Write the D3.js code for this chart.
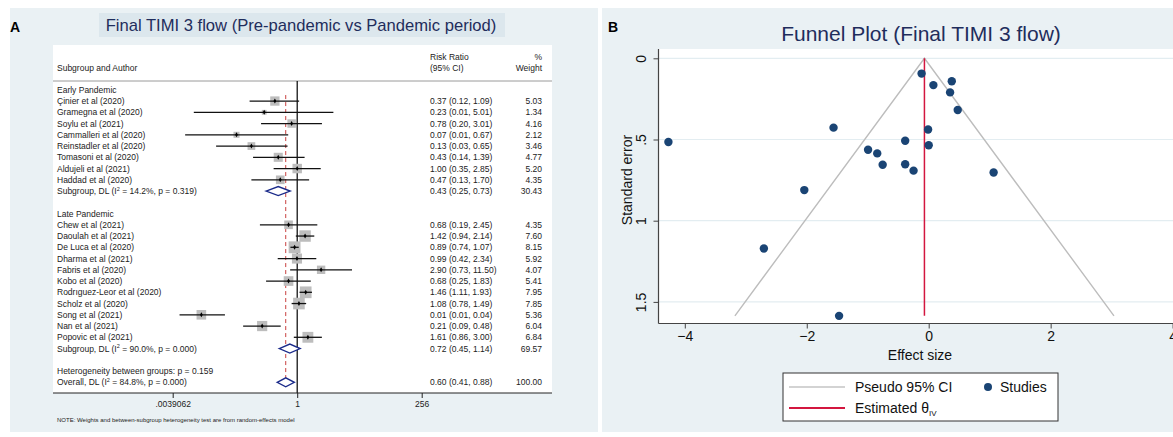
<!DOCTYPE html>
<html>
<head>
<meta charset="utf-8">
<script src="https://cdn.jsdelivr.net/npm/d3@7"></script>
<style>
  body { margin: 0; background: #fff; }
  svg { display: block; font-family: "Liberation Sans", Arial, sans-serif; }
</style>
</head>
<body>
<svg id="chart" width="1173" height="437"></svg>
<script>
// ---- forest plot data (risk ratio, 95% CI, % weight) ----
var earlyAuthors = ["Çinier et al (2020)", "Gramegna et al (2020)", "Soylu et al (2021)", "Cammalleri et al (2020)",
    "Reinstadler et al (2020)", "Tomasoni et al (2020)", "Aldujeli et al (2021)", "Haddad et al (2020)"];
var earlyRR = [0.37, 0.23, 0.78, 0.067, 0.13, 0.43, 1.00, 0.47];
var earlyLo = [0.12, 0.01, 0.20, 0.0068, 0.027, 0.14, 0.35, 0.13];
var earlyHi = [1.09, 5.01, 3.01, 0.67, 0.65, 1.39, 2.85, 1.70];
var earlyWeight = [5.03, 1.34, 4.16, 2.12, 3.46, 4.77, 5.20, 4.35];

var lateAuthors = ["Chew et al (2021)", "Daoulah et al (2021)", "De Luca et al (2020)", "Dharma et al (2021)",
    "Fabris et al (2020)", "Kobo et al (2020)", "Rodrıguez-Leor et al (2020)", "Scholz et al (2020)",
    "Song et al (2021)", "Nan et al (2021)", "Popovic et al (2021)"];
var lateRR = [0.68, 1.42, 0.89, 0.99, 2.90, 0.68, 1.46, 1.08, 0.014, 0.21, 1.61];
var lateLo = [0.19, 0.94, 0.74, 0.42, 0.73, 0.25, 1.11, 0.78, 0.0053, 0.09, 0.86];
var lateHi = [2.45, 2.14, 1.07, 2.34, 11.50, 1.83, 1.93, 1.49, 0.04, 0.48, 3.00];
var lateWeight = [4.35, 7.60, 8.15, 5.92, 4.07, 5.41, 7.95, 7.85, 5.36, 6.04, 6.84];

var groupNames = ["Early Pandemic", "Late Pandemic"];
var subgroupRR = [0.43, 0.72];
var subgroupLo = [0.25, 0.45];
var subgroupHi = [0.73, 1.14];
var subgroupWeight = [30.43, 69.57];
var subgroupI2 = ["14.2", "90.0"];
var subgroupP = ["0.319", "0.000"];

var overallRR = 0.60, overallLo = 0.41, overallHi = 0.88, overallWeight = 100.00;
var overallI2 = "84.8", overallP = "0.000", betweenP = "0.159";

var forestTicks = [Math.pow(2, -8), 1, 256];
var forestTickLabels = [".0039062", "1", "256"];

// ---- funnel plot ----
var thetaIV = -0.07;
var funnelXTicks = [-4, -2, 0, 2, 4];
var funnelYTicks = [0, 0.5, 1, 1.5];
var funnelYLabels = ["0", ".5", "1", "1.5"];

var svg = d3.select("#chart");
var f2 = d3.format(".2f");
var navy = "#1f2d5c";

// backgrounds
svg.append("rect").attr("x", 10).attr("y", 8).attr("width", 588).attr("height", 424).attr("fill", "#eaf1f4");
svg.append("rect").attr("x", 602).attr("y", 8).attr("width", 571).attr("height", 424).attr("fill", "#eaf1f4");

// ================= PANEL A : forest plot =================
var A = svg.append("g");
A.append("text").attr("x", 10).attr("y", 32).attr("font-size", 14).attr("font-weight", "bold").text("A");
A.append("rect").attr("x", 99).attr("y", 13).attr("width", 406).attr("height", 24).attr("fill", "#dce7ed");
A.append("text").attr("x", 301).attr("y", 31).attr("text-anchor", "middle").attr("font-size", 16.6)
    .attr("fill", navy).text("Final TIMI 3 flow (Pre-pandemic vs Pandemic period)");

A.append("rect").attr("x", 53).attr("y", 45).attr("width", 499).attr("height", 348).attr("fill", "#fff");

var fs = 8.5;
A.append("text").attr("x", 57).attr("y", 71).attr("font-size", fs).attr("fill", "#222").text("Subgroup and Author");
A.append("text").attr("x", 430).attr("y", 60).attr("font-size", fs).attr("fill", "#222").text("Risk Ratio");
A.append("text").attr("x", 430).attr("y", 71).attr("font-size", fs).attr("fill", "#222").text("(95% CI)");
A.append("text").attr("x", 542).attr("y", 60).attr("font-size", fs).attr("fill", "#222").attr("text-anchor", "end").text("%");
A.append("text").attr("x", 542).attr("y", 71).attr("font-size", fs).attr("fill", "#222").attr("text-anchor", "end").text("Weight");
A.append("line").attr("x1", 53).attr("x2", 552).attr("y1", 81).attr("y2", 81).attr("stroke", "#9a9a9a").attr("stroke-width", 1);

// build rows
var rows = [];
[0, 1].forEach(function (g) {
  var au = g === 0 ? earlyAuthors : lateAuthors;
  var rr = g === 0 ? earlyRR : lateRR;
  var lo = g === 0 ? earlyLo : lateLo;
  var hi = g === 0 ? earlyHi : lateHi;
  var w = g === 0 ? earlyWeight : lateWeight;
  rows.push({ type: "group", label: groupNames[g] });
  au.forEach(function (a, i) { rows.push({ type: "study", label: a, rr: rr[i], lo: lo[i], hi: hi[i], w: w[i] }); });
  rows.push({ type: "sub", pre: "Subgroup, DL (I", i2: subgroupI2[g], p: subgroupP[g],
    rr: subgroupRR[g], lo: subgroupLo[g], hi: subgroupHi[g], w: subgroupWeight[g] });
  rows.push({ type: "blank" });
});
rows.push({ type: "het", label: "Heterogeneity between groups: p = " + betweenP });
rows.push({ type: "sub", pre: "Overall, DL (I", i2: overallI2, p: overallP,
  rr: overallRR, lo: overallLo, hi: overallHi, w: overallWeight });

var rowY = function (i) { return 89.8 + i * 11.25; };
var xF = d3.scaleLog().base(2).domain([forestTicks[0], forestTicks[2]]).range([172.7, 421.7]);
var boxSide = d3.scaleSqrt().domain([0, 1]).range([0, 4.15]);

// reference lines
A.append("line").attr("x1", xF(1)).attr("x2", xF(1)).attr("y1", 81).attr("y2", 393).attr("stroke", "#000").attr("stroke-width", 1.2);
A.append("line").attr("x1", xF(overallRR)).attr("x2", xF(overallRR)).attr("y1", rowY(1) - 6).attr("y2", rowY(rows.length - 1))
    .attr("stroke", "#c8413f").attr("stroke-width", 1).attr("stroke-dasharray", "4,3");

rows.forEach(function (r, i) {
  var y = rowY(i);
  if (r.type === "blank") return;
  var t = A.append("text").attr("x", 57).attr("y", y + 3).attr("font-size", fs).attr("fill", "#222");
  if (r.type === "sub") {
    t.append("tspan").text(r.pre);
    t.append("tspan").attr("font-size", 5.5).attr("dy", -3.5).text("2");
    t.append("tspan").attr("dy", 3.5).text(" = " + r.i2 + "%, p = " + r.p + ")");
  } else {
    t.text(r.label);
  }
  if (r.type === "study" || r.type === "sub") {
    A.append("text").attr("x", 430).attr("y", y + 3).attr("font-size", fs).attr("fill", "#222")
        .text(f2(r.rr) + " (" + f2(r.lo) + ", " + f2(r.hi) + ")");
    A.append("text").attr("x", 542).attr("y", y + 3).attr("font-size", fs).attr("fill", "#222").attr("text-anchor", "end")
        .text(f2(r.w));
  }
  if (r.type === "study") {
    var s = boxSide(r.w);
    A.append("rect").attr("x", xF(r.rr) - s / 2).attr("y", y - s / 2).attr("width", s).attr("height", s).attr("fill", "#bdbdbd");
    A.append("line").attr("x1", xF(r.lo)).attr("x2", xF(r.hi)).attr("y1", y).attr("y2", y).attr("stroke", "#111").attr("stroke-width", 1.3);
    A.append("path").attr("d", d3.symbol().type(d3.symbolDiamond).size(7)).attr("transform", "translate(" + xF(r.rr) + "," + y + ")").attr("fill", "#000");
  }
  if (r.type === "sub") {
    var d = "M" + xF(r.lo) + "," + y + "L" + xF(r.rr) + "," + (y - 4.5) + "L" + xF(r.hi) + "," + y + "L" + xF(r.rr) + "," + (y + 4.5) + "Z";
    A.append("path").attr("d", d).attr("fill", "#fff").attr("stroke", "#1a2a8a").attr("stroke-width", 1.4);
  }
});

// forest axis
A.append("line").attr("x1", 53).attr("x2", 552).attr("y1", 393).attr("y2", 393).attr("stroke", "#222").attr("stroke-width", 1);
var axF = A.append("g").attr("transform", "translate(0,393)")
    .call(d3.axisBottom(xF).tickValues(forestTicks).tickFormat(function (d, i) { return forestTickLabels[i]; }).tickSize(5));
axF.select(".domain").remove();
axF.selectAll("text").attr("font-size", fs).attr("fill", "#222").attr("y", 8).attr("font-family", null);
axF.selectAll("line").attr("stroke", "#222");
A.append("text").attr("x", 57).attr("y", 422).attr("font-size", 6).attr("fill", "#222")
    .text("NOTE: Weights and between-subgroup heterogeneity test are from random-effects model");

// ================= PANEL B : funnel plot =================
var B = svg.append("g");
B.append("text").attr("x", 608).attr("y", 32).attr("font-size", 14).attr("font-weight", "bold").text("B");
B.append("text").attr("x", 921).attr("y", 41).attr("text-anchor", "middle").attr("font-size", 21).attr("fill", navy)
    .text("Funnel Plot (Final TIMI 3 flow)");

var xB = d3.scaleLinear().domain([-4, 4]).range([684.8, 1172.6]);
var yB = d3.scaleLinear().domain([0, 1.5]).range([58.3, 301.9]);
var plotL = 658.5, plotT = 49, plotB = 323.5;

B.append("rect").attr("x", plotL).attr("y", plotT).attr("width", 1173 - plotL).attr("height", plotB - plotT).attr("fill", "#fff");
funnelYTicks.forEach(function (t) {
  B.append("line").attr("x1", plotL).attr("x2", 1173).attr("y1", yB(t)).attr("y2", yB(t)).attr("stroke", "#e3edf1").attr("stroke-width", 1.2);
});

// studies derived from the forest data: log RR and its standard error
var studies = rows.filter(function (r) { return r.type === "study"; }).map(function (r) {
  return { es: Math.log(r.rr), se: (Math.log(r.hi) - Math.log(r.lo)) / (2 * 1.96) };
});
var seMax = d3.max(studies, function (d) { return d.se; });

B.append("path")
    .attr("d", "M" + xB(thetaIV - 1.96 * seMax) + "," + yB(seMax) + "L" + xB(thetaIV) + "," + yB(0) + "L" + xB(thetaIV + 1.96 * seMax) + "," + yB(seMax))
    .attr("fill", "none").attr("stroke", "#bdbdbd").attr("stroke-width", 1.4);
B.append("line").attr("x1", xB(thetaIV)).attr("x2", xB(thetaIV)).attr("y1", yB(0)).attr("y2", yB(seMax))
    .attr("stroke", "#d3163f").attr("stroke-width", 1.5);

B.selectAll("circle.study").data(studies).enter().append("circle").attr("class", "study")
    .attr("cx", function (d) { return xB(d.es); }).attr("cy", function (d) { return yB(d.se); })
    .attr("r", 4.2).attr("fill", "#1a4474");

// axes
B.append("line").attr("x1", plotL).attr("x2", 1173).attr("y1", plotB).attr("y2", plotB).attr("stroke", "#444").attr("stroke-width", 1.2);
B.append("line").attr("x1", plotL).attr("x2", plotL).attr("y1", plotT).attr("y2", plotB).attr("stroke", "#444").attr("stroke-width", 1.2);

var axX = B.append("g").attr("transform", "translate(0," + plotB + ")")
    .call(d3.axisBottom(xB).tickValues(funnelXTicks).tickSize(5));
axX.select(".domain").remove();
axX.selectAll("line").attr("stroke", "#444");
axX.selectAll("text").attr("font-size", 14).attr("fill", "#111").attr("font-family", null).attr("y", 8);

var axY = B.append("g").attr("transform", "translate(" + plotL + ",0)")
    .call(d3.axisLeft(yB).tickValues(funnelYTicks).tickSize(5).tickFormat(function (d, i) { return funnelYLabels[i]; }));
axY.select(".domain").remove();
axY.selectAll("line").attr("stroke", "#444");
axY.selectAll("text").attr("font-size", 14).attr("fill", "#111").attr("font-family", null)
    .attr("x", 0).attr("y", -13).attr("dy", 0).attr("text-anchor", "middle").attr("transform", "rotate(-90)");

B.append("text").attr("x", 920).attr("y", 360).attr("text-anchor", "middle").attr("font-size", 14).attr("fill", "#111").text("Effect size");
B.append("text").attr("transform", "translate(632,180) rotate(-90)").attr("text-anchor", "middle").attr("font-size", 14)
    .attr("fill", "#111").text("Standard error");

// legend
var L = B.append("g");
L.append("rect").attr("x", 783).attr("y", 373).attr("width", 275).attr("height", 48).attr("fill", "#fff").attr("stroke", "#333").attr("stroke-width", 1);
L.append("line").attr("x1", 789).attr("x2", 845).attr("y1", 387).attr("y2", 387).attr("stroke", "#c4c4c4").attr("stroke-width", 1.6);
L.append("text").attr("x", 855).attr("y", 392).attr("font-size", 14).attr("fill", "#111").text("Pseudo 95% CI");
L.append("circle").attr("cx", 988).attr("cy", 387).attr("r", 4).attr("fill", "#1a4474");
L.append("text").attr("x", 1000).attr("y", 392).attr("font-size", 14).attr("fill", "#111").text("Studies");
L.append("line").attr("x1", 789).attr("x2", 845).attr("y1", 408).attr("y2", 408).attr("stroke", "#d3163f").attr("stroke-width", 2);
var et = L.append("text").attr("x", 855).attr("y", 413).attr("font-size", 14).attr("fill", "#111");
et.append("tspan").text("Estimated θ");
et.append("tspan").attr("font-size", 8).attr("dy", 3).text("IV");
</script>
</body>
</html>
